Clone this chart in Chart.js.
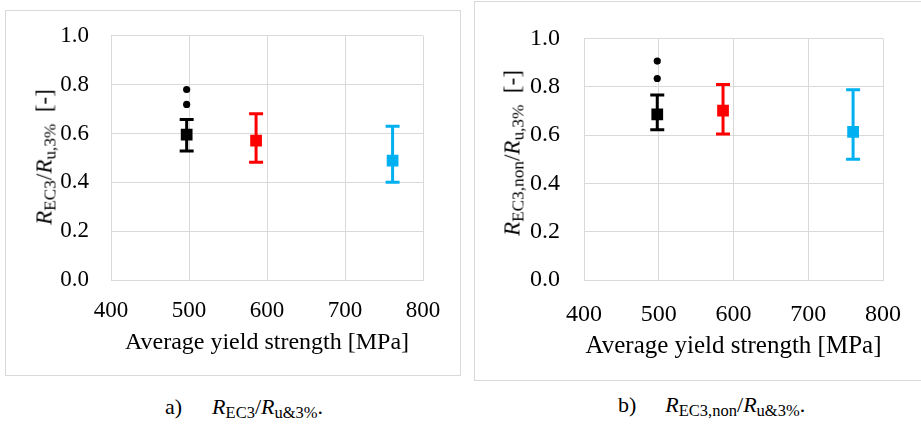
<!DOCTYPE html>
<html>
<head>
<meta charset="utf-8">
<script src="https://cdn.jsdelivr.net/npm/chart.js@4/dist/chart.umd.min.js"></script>
<style>
  html, body { margin: 0; padding: 0; background: #fff; }
  body { width: 921px; height: 424px; position: relative; overflow: hidden; font-family: "Liberation Serif", "Times New Roman", serif; }
  .frame { position: absolute; border: 1px solid #d9d9d9; box-sizing: border-box; }
  .box { position: absolute; }
  .ytitle {
    position: absolute; white-space: nowrap; font-size: 23px; line-height: 1;
    transform: translate(-50%, -50%) rotate(-90deg);
  }
  .ytitle sub, .caption sub { font-size: 75%; vertical-align: -0.22em; line-height: 0; }
  .caption { position: absolute; white-space: nowrap; font-size: 22px; line-height: 1; }
  .caption .gap { display: inline-block; }
</style>
</head>
<body>
<div class="frame" style="left:5px; top:10px; width:456px; height:366px;"></div>
<div class="frame" style="left:474px; top:1px; width:470px; height:380px;"></div>

<div class="box" style="left:0; top:0; width:460px; height:380px;"><canvas id="chartA"></canvas></div>
<div class="box" style="left:460px; top:0; width:461px; height:380px;"><canvas id="chartB"></canvas></div>

<div class="ytitle" style="left:44px; top:157px;"><i>R</i><sub>EC3</sub>/<i>R</i><sub>u,3%</sub>&nbsp;&nbsp;[-]</div>
<div class="ytitle" style="left:512px; top:153px;"><i>R</i><sub>EC3,non</sub>/<i>R</i><sub>u,3%</sub>&nbsp;&nbsp;[-]</div>

<div class="caption" style="left:165px; top:396px;">a)<span class="gap" style="width:30px"></span><i>R</i><sub>EC3</sub>/<i>R</i><sub>u&amp;3%</sub>.</div>
<div class="caption" style="left:618px; top:394px;">b)<span class="gap" style="width:29px"></span><i>R</i><sub>EC3,non</sub>/<i>R</i><sub>u&amp;3%</sub>.</div>

<script>
// groups: black, red, blue
const groupColors = ['#000000', '#ff0000', '#00b0f0'];
const xTicks = [400, 500, 600, 700, 800];
const yTicks = [0, 0.2, 0.4, 0.6, 0.8, 1.0];

// a) R_EC3 / R_u,3%
const strengthA = [497, 586, 761];
const meanA = [0.595, 0.571, 0.489];
const lowA = [0.528, 0.482, 0.400];
const highA = [0.657, 0.681, 0.630];
const outlierXA = [497, 497];
const outlierYA = [0.780, 0.719];

// b) R_EC3,non / R_u,3%
const strengthB = [498, 586, 760];
const meanB = [0.686, 0.701, 0.613];
const lowB = [0.622, 0.604, 0.500];
const highB = [0.766, 0.809, 0.787];
const outlierXB = [498, 498];
const outlierYB = [0.906, 0.834];

const gridColor = '#d9d9d9';
const serif = '"Liberation Serif", "Times New Roman", serif';

function buildDatasets(xs, means, lows, highs, oxs, oys) {
  const sets = [];
  // mean squares on top
  sets.push({
    data: xs.map((x, i) => ({ x: x, y: means[i] })),
    pointStyle: 'rect',
    pointRadius: 8.3,
    pointBorderWidth: 0,
    pointBackgroundColor: groupColors,
    showLine: false,
    order: 0
  });
  sets.push({
    data: oxs.map((x, i) => ({ x: x, y: oys[i] })),
    pointStyle: 'circle',
    pointRadius: 3.6,
    pointBorderWidth: 0,
    pointBackgroundColor: '#000000',
    showLine: false,
    order: 1
  });
  // error bars = short line with 'line' points as caps
  xs.forEach((x, i) => {
    sets.push({
      data: [{ x: x, y: lows[i] }, { x: x, y: highs[i] }],
      showLine: true,
      borderColor: groupColors[i],
      borderWidth: 3,
      pointStyle: 'line',
      pointRadius: 7,
      pointBorderWidth: 3,
      pointBorderColor: groupColors[i],
      order: 2
    });
  });
  return sets;
}

function makeChart(id, datasets, cfg) {
  const ctx = document.getElementById(id).getContext('2d');
  return new Chart(ctx, {
    type: 'scatter',
    data: { datasets: datasets },
    options: {
      animation: false,
      responsive: true,
      maintainAspectRatio: false,
      events: [],
      layout: { padding: cfg.padding },
      plugins: { legend: { display: false }, tooltip: { enabled: false } },
      scales: {
        x: {
          type: 'linear', min: 400, max: 800,
          afterBuildTicks: (s) => { s.ticks = xTicks.map(v => ({ value: v })); },
          afterFit: (s) => { s.height = cfg.xHeight; },
          grid: { color: gridColor, lineWidth: 1, drawTicks: false },
          border: { display: true, color: gridColor, width: 1 },
          ticks: {
            color: '#000', padding: cfg.xPad,
            font: { family: serif, size: cfg.tickSize },
            maxRotation: 0
          },
          title: {
            display: true, text: 'Average yield strength [MPa]', color: '#000',
            padding: 0,
            font: { family: serif, size: cfg.titleSize, lineHeight: 1 }
          }
        },
        y: {
          type: 'linear', min: 0, max: 1,
          afterBuildTicks: (s) => { s.ticks = yTicks.map(v => ({ value: v })); },
          afterFit: (s) => { s.width = cfg.yWidth; },
          grid: { color: gridColor, lineWidth: 1, drawTicks: false },
          border: { display: true, color: gridColor, width: 1 },
          ticks: {
            color: '#000', padding: cfg.yPad,
            font: { family: serif, size: cfg.tickSize },
            callback: (v) => Number(v).toFixed(1)
          }
        }
      }
    }
  });
}

function drawAll() {
  makeChart('chartA', buildDatasets(strengthA, meanA, lowA, highA, outlierXA, outlierYA), {
    padding: { left: 0, right: 37, top: 32, bottom: 25 },
    xHeight: 75, yWidth: 111, xPad: 17, yPad: 22, tickSize: 23, titleSize: 24
  });
  makeChart('chartB', buildDatasets(strengthB, meanB, lowB, highB, outlierXB, outlierYB), {
    padding: { left: 0, right: 30, top: 23, bottom: 21 },
    xHeight: 79, yWidth: 124, xPad: 20, yPad: 24, tickSize: 24, titleSize: 25
  });
}

// make sure the serif face is ready before the canvas text is drawn
Promise.all([
  document.fonts.load('23px "Liberation Serif"'),
  document.fonts.load('italic 23px "Liberation Serif"')
]).then(drawAll, drawAll);
</script>
</body>
</html>
